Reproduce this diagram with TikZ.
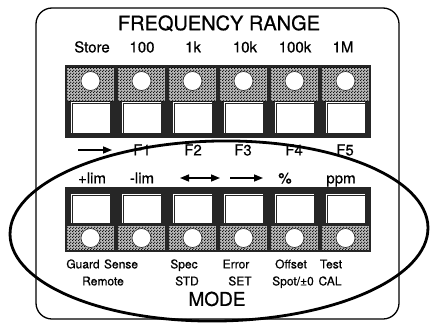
\documentclass[tikz,border=0pt]{standalone}
\usepackage{fontspec}
\setmainfont[FakeBold=0.6]{TeX Gyre Heros}
\usetikzlibrary{arrows.meta,patterns}
\pgfdeclarepatternformonly{dotgrid}{\pgfpointorigin}{\pgfpoint{3pt}{3pt}}{\pgfpoint{3pt}{3pt}}{%
  \pgfpathcircle{\pgfpoint{0.75pt}{0.75pt}}{0.8pt}%
  \pgfpathcircle{\pgfpoint{2.25pt}{2.25pt}}{0.8pt}%
  \pgfusepath{fill}}
\colorlet{framecol}{black!85}
\begin{document}
\begin{tikzpicture}[x=1pt,y=-1pt,
  lab/.style={font=\fontsize{15}{17}\selectfont, inner sep=0pt, text height=10.8pt, text depth=0pt},
  sub/.style={font=\fontsize{12}{14}\selectfont, inner sep=0pt, text height=8.7pt, text depth=0pt},
  big/.style={font=\fontsize{20}{22}\selectfont, inner sep=0pt, text height=14.4pt, text depth=0pt},
  modelab/.style={font=\fontsize{19}{21}\selectfont, inner sep=0pt, text height=13.7pt, text depth=0pt},
  texture/.style={fill=gray!55, postaction={pattern=dotgrid, pattern color=black}},
  led/.style={circle, fill=white, draw=framecol, line width=0.6pt, minimum size=19pt, inner sep=0pt},
  arr/.style={line width=1.5pt, -{Triangle[length=9pt,width=7pt]}},
  darr/.style={line width=1.5pt, {Triangle[length=9pt,width=7pt]}-{Triangle[length=9pt,width=7pt]}},
]
\useasboundingbox (0,0) rectangle (430,324);
\fill[white] (0,0) rectangle (430,324);

% panel
\node[draw, line width=1.3pt, rounded corners=16pt, minimum width=363pt, minimum height=311pt, inner sep=0pt] (panel) at (217.5,163.5) {};

% titles
\node[big] (title) at (219,23) {FREQUENCY RANGE};
\node[lab] (st) at (92,47) {Store};
\node[lab] (r100) at (142,47) {100};
\node[lab] (r1k) at (193,47) {1k};
\node[lab] (r10k) at (245,47) {10k};
\node[lab] (r100k) at (295,47) {100k};
\node[lab] (r1M) at (343,47) {1M};

% upper block
\fill[framecol] (65,65) rectangle (371,138);
\foreach \i/\cx in {0/90.5,1/141.5,2/192.5,3/243.5,4/294.5,5/345.5}{
  \fill[texture] (\cx-23.5,67.5) rectangle (\cx+23.5,101);
  \node[led] (ua\i) at (\cx,81) {};
  \fill[white] (\cx-20,101.5) rectangle (\cx+19,133);
  \draw[framecol, line width=0.8pt] (\cx-18,133) -- (\cx-18,103.6) -- (\cx+19,103.6);
}

% labels between rows
\coordinate (a1s) at (78,150);
\coordinate (a1e) at (112,150);
\draw[arr] (a1s) -- (a1e);
\node[lab] (f1) at (142,150) {F1};
\node[lab] (f2) at (193,150) {F2};
\node[lab] (f3) at (243,150) {F3};
\node[lab] (f4) at (294,150) {F4};
\node[lab] (f5) at (345,150) {F5};

\node[lab] (plim) at (92,178) {+lim};
\node[lab] (mlim) at (142,178) {-lim};
\coordinate (a2s) at (180,178);
\coordinate (a2e) at (220,178);
\draw[darr] (a2s) -- (a2e);
\coordinate (a3s) at (230,178);
\coordinate (a3e) at (263,178);
\draw[arr] (a3s) -- (a3e);
\node[lab] (pct) at (285,178) {\%};
\node[lab] (ppm) at (341,178) {ppm};

% lower block
\fill[framecol] (65,187) rectangle (371,252);
\foreach \i/\cx in {0/90.5,1/141.5,2/192.5,3/243.5,4/294.5,5/345.5}{
  \fill[white] (\cx-20,193.5) rectangle (\cx+19,223);
  \draw[framecol, line width=0.8pt] (\cx-18,223) -- (\cx-18,195.6) -- (\cx+19,195.6);
  \fill[texture] (\cx-23.5,226) rectangle (\cx+23.5,250);
  \node[led] (la\i) at (\cx,238) {};
}

% lower labels
\node[sub] (guard) at (83,264) {Guard};
\node[sub] (sense) at (121,264) {Sense};
\node[sub] (spec) at (184,264) {Spec};
\node[sub] (error) at (236,264) {Error};
\node[sub] (offset) at (291,264) {Offset};
\node[sub] (test) at (331,264) {Test};
\node[sub] (remote) at (103,281) {Remote};
\node[sub] (std) at (187,281) {STD};
\node[sub] (set) at (240,281) {SET};
\node[sub] (spot) at (293,281) {Spot/±0};
\node[sub] (cal) at (330,281) {CAL};
\node[modelab] (mode) at (217,299) {MODE};

% ellipse
\draw[line width=2.8pt, rotate around={1:(219,231)}] (219,231) ellipse [x radius=209, y radius=90];
\end{tikzpicture}
\end{document}
